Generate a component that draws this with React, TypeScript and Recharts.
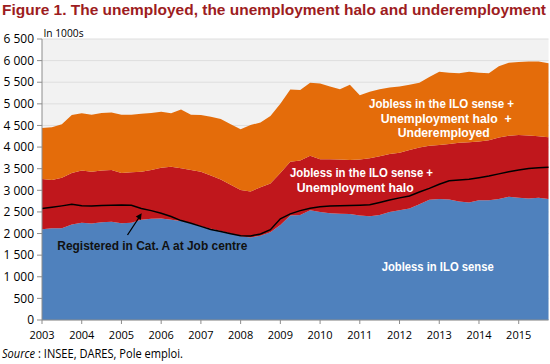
import React from 'react';
import { ComposedChart, Area, Line, XAxis, YAxis, CartesianGrid } from 'recharts';

const years = [2003, 2004, 2005, 2006, 2007, 2008, 2009, 2010, 2011, 2012, 2013, 2014, 2015];
const quarterDates = years.flatMap((y) => [y, y + 0.25, y + 0.5, y + 0.75]);
const yTicks = [0, 500, 1000, 1500, 2000, 2500, 3000, 3500, 4000, 4500, 5000, 5500, 6000, 6500];

// in 1000s, quarterly 2003Q1 - 2015Q4
const joblessILO = [
  2100, 2120, 2120, 2210, 2250, 2235, 2260, 2270, 2240, 2250, 2320, 2340, 2345,
  2320, 2290, 2240, 2170, 2110, 2060, 2000, 1935, 1910, 1950, 2030, 2200, 2420,
  2430, 2540, 2500, 2470, 2460, 2450, 2420, 2400, 2430, 2500, 2540, 2580, 2680,
  2780, 2800, 2790, 2740, 2720, 2770, 2770, 2800, 2850, 2830, 2810, 2830, 2800,
];
const unemploymentHalo = [
  1160, 1120, 1170, 1190, 1210, 1195, 1200, 1200, 1160, 1170, 1110, 1130, 1175,
  1225, 1220, 1230, 1260, 1230, 1190, 1130, 1075, 1060, 1120, 1130, 1200, 1240,
  1260, 1260, 1220, 1250, 1250, 1250, 1290, 1340, 1360, 1340, 1330, 1350, 1310,
  1250, 1250, 1280, 1360, 1390, 1360, 1390, 1420, 1410, 1450, 1460, 1420, 1430,
];
const underemployed = [
  1180, 1220, 1240, 1340, 1320, 1320, 1330, 1330, 1350, 1330, 1340, 1320, 1300,
  1235, 1360, 1280, 1310, 1360, 1400, 1400, 1400, 1540, 1500, 1560, 1600, 1670,
  1630, 1690, 1750, 1680, 1630, 1740, 1490, 1540, 1550, 1540, 1530, 1510, 1500,
  1590, 1690, 1650, 1610, 1630, 1590, 1550, 1650, 1690, 1690, 1710, 1730, 1710,
];
const registeredCatA = [
  2580, 2610, 2640, 2675, 2645, 2635, 2650, 2655, 2660, 2655, 2580, 2530, 2470,
  2395, 2300, 2240, 2165, 2095, 2045, 1995, 1950, 1945, 1990, 2090, 2340, 2455,
  2530, 2585, 2620, 2637, 2645, 2650, 2655, 2665, 2720, 2775, 2825, 2870, 2960,
  3045, 3140, 3220, 3240, 3255, 3290, 3330, 3380, 3430, 3470, 3505, 3520, 3535,
];

const data = quarterDates.map((date, i) => ({
  date,
  ilo: joblessILO[i],
  halo: unemploymentHalo[i],
  under: underemployed[i],
  catA: registeredCatA[i],
}));

const FONT = "'Open Sans', 'Liberation Sans', sans-serif";
const FONT2 = "'Liberation Sans', Arial, sans-serif";
const BLUE = '#4f81bd';
const RED = '#c0171c';
const ORANGE = '#e46c0a';

const fmt = (v: number) =>
  v >= 1000 ? `${Math.floor(v / 1000)} ${String(v % 1000).padStart(3, '0')}` : String(v);

const annotations = [
  { text: 'Jobless in the ILO sense +', x: 369, y: 108, len: 145, fill: '#fff' },
  { text: 'Unemployment halo  +', x: 380.7, y: 122.5, len: 131, fill: '#fff' },
  { text: 'Underemployed', x: 397.7, y: 137, len: 92, fill: '#fff' },
  { text: 'Jobless in the ILO sense +', x: 290, y: 177, len: 143, fill: '#fff' },
  { text: 'Unemployment halo', x: 296.7, y: 191.5, len: 117, fill: '#fff' },
  { text: 'Jobless in ILO sense', x: 381.7, y: 271, len: 112, fill: '#fff' },
  { text: 'Registered in Cat. A at Job centre', x: 57.3, y: 250, len: 190, fill: '#111' },
];

export default function App() {
  return (
    <div style={{ position: 'absolute', left: 0, top: 0, width: 550, height: 364, background: '#fff' }}>
      <ComposedChart
        width={550}
        height={364}
        data={data}
        margin={{ top: 39, right: 1.5, bottom: 0, left: 0 }}
      >
        <CartesianGrid vertical={false} stroke="#dedede" fill="#f2f2f2" />
        <XAxis
          dataKey="date"
          type="number"
          domain={[2003, 2015.75]}
          ticks={years}
          interval={0}
          height={44}
          tickSize={4}
          tickMargin={7}
          stroke="#8c8c8c"
          tick={{ fontSize: 11, fill: '#000', fontFamily: FONT }}
        />
        <YAxis
          type="number"
          domain={[0, 6500]}
          ticks={yTicks}
          interval={0}
          width={42}
          tickSize={5}
          tickMargin={3}
          stroke="#8c8c8c"
          tickFormatter={fmt}
          tick={{ fontSize: 12, fill: '#000', fontFamily: FONT }}
        />
        <Area dataKey="ilo" stackId="s" type="linear" fill={BLUE} stroke="none" fillOpacity={1} isAnimationActive={false} />
        <Area dataKey="halo" stackId="s" type="linear" fill={RED} stroke="none" fillOpacity={1} isAnimationActive={false} />
        <Area dataKey="under" stackId="s" type="linear" fill={ORANGE} stroke="none" fillOpacity={1} isAnimationActive={false} />
        <Line dataKey="catA" type="linear" stroke="#000" strokeWidth={1.5} dot={false} isAnimationActive={false} />
      </ComposedChart>
      <svg
        width={550}
        height={364}
        style={{ position: 'absolute', left: 0, top: 0, pointerEvents: 'none' }}
      >
        <text x={2} y={14.5} fontFamily={FONT2} fontSize={15} fontWeight="bold" fill="#9d1c21" textLength={544} lengthAdjust="spacingAndGlyphs">
          Figure 1. The unemployed, the unemployment halo and underemployment
        </text>
        <text x={43.5} y={36.5} fontFamily={FONT} fontSize={11} fill="#000" textLength={40} lengthAdjust="spacingAndGlyphs">
          In 1000s
        </text>
        {annotations.map((a, i) => (
          <text
            key={i}
            x={a.x}
            y={a.y}
            fontFamily={FONT2}
            fontSize={12.5}
            fontWeight="bold"
            fill={a.fill}
            textLength={a.len}
            lengthAdjust="spacingAndGlyphs"
            style={{ whiteSpace: 'pre' }}
          >
            {a.text}
          </text>
        ))}
        <line x1={127.5} y1={235} x2={139} y2={217.5} stroke="#000" strokeWidth={1.3} />
        <polygon points="141.7,213.3 140.8,220 135.8,216.6" fill="#000" />
        <text x={2} y={358} fontFamily={FONT} fontSize={12} fill="#000" textLength={181} lengthAdjust="spacingAndGlyphs">
          <tspan fontStyle="italic">Source</tspan>
          <tspan> : INSEE, DARES, Pole emploi.</tspan>
        </text>
      </svg>
    </div>
  );
}
